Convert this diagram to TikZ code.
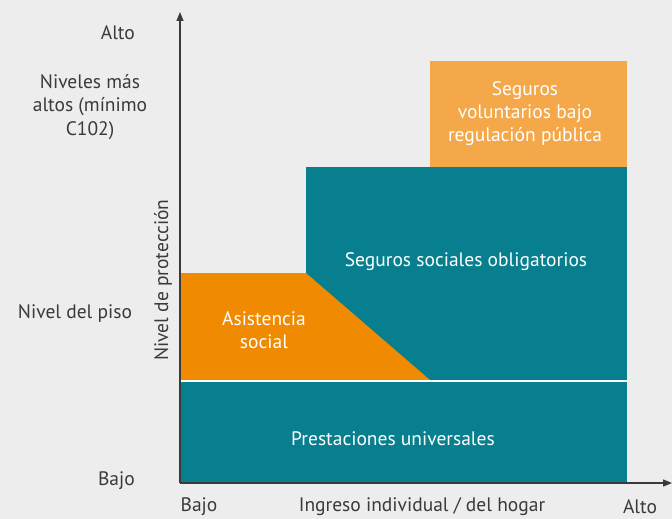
\documentclass[tikz,border=0pt]{standalone}
\usepackage{fontspec}
\setmainfont{PT Sans}
\usetikzlibrary{arrows.meta}
\definecolor{bg}{HTML}{EDEDED}
\definecolor{teal1}{HTML}{077F8F}
\definecolor{orng}{HTML}{F08A00}
\definecolor{lorng}{HTML}{F5A84A}
\definecolor{txt}{HTML}{3A3A3A}
\begin{document}
\begin{tikzpicture}[x=1pt,y=-1pt,
  lab/.style={text=txt,font=\fontsize{19.5}{23.5}\selectfont,inner sep=0pt},
  inlab/.style={text=white,font=\fontsize{19.5}{23}\selectfont,inner sep=0pt,align=center},
  axis/.style={draw=txt,line width=1.2pt,-{Triangle[length=9pt,width=7pt]}}]
\fill[bg] (0,0) rectangle (672,519);
\useasboundingbox (0,0) rectangle (672,519);
% areas
\fill[teal1] (181,382) rectangle (627,483);
\fill[teal1] (306,167) rectangle (627,380);
\fill[orng] (181,273) -- (306,273) -- (430,380) -- (181,380) -- cycle;
\fill[lorng] (430,61) rectangle (627,167);
\draw[white,line width=1.5pt] (181,381) -- (627,381);
% axes
\coordinate (o) at (180,483);
\coordinate (ytip) at (180,12);
\coordinate (xtip) at (672,483);
\draw[axis] (o) -- (ytip);
\draw[axis] (o) -- (xtip);
% inside labels
\node[inlab] (pu) at (393,439) {Prestaciones universales};
\node[inlab] (as) at (264,330) {Asistencia\\social};
\node[inlab] (sso) at (466,262) {Seguros sociales obligatorios};
\node[inlab] (svr) at (525,114) {Seguros\\voluntarios bajo\\regulación pública};
% y labels
\node[lab,anchor=east] (yalto) at (135,33) {Alto};
\node[lab,align=center] (ynm) at (90,107) {Niveles más\\altos (mínimo\\C102)};
\node[lab] (ypiso) at (75,314) {Nivel del piso};
\node[lab,anchor=east] (ybajo) at (135,481) {Bajo};
\node[lab,rotate=90] (ytitle) at (163,280) {Nivel de protección};
% x labels
\node[lab] (xbajo) at (199,507) {Bajo};
\node[lab] (xtitle) at (422,507) {Ingreso individual / del hogar};
\node[lab] (xalto) at (640,507) {Alto};
\end{tikzpicture}
\end{document}
